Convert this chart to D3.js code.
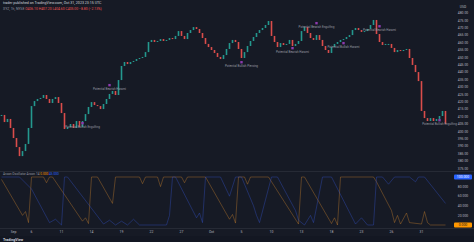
<!DOCTYPE html>
<html>
<head>
<meta charset="utf-8">
<script src="https://cdn.jsdelivr.net/npm/d3@7"></script>
<style>
  html, body { margin: 0; padding: 0; background: #161a25; overflow: hidden; }
  svg text { font-family: Roboto, "Noto Sans", sans-serif; }
</style>
</head>
<body>
<div id="chart"></div>
<script>
// Taille de la fenêtre
const width = 474;
const height = 242;

// Clôtures (une bougie par valeur)
const closes = [
  411.1, 406.3, 408.4, 402.3, 395.5, 389.4, 383.3, 386.7, 391.5, 402.3,
  417.1, 420.5, 421.9, 422.6, 424.6, 421.9, 419.2, 421.9, 423.2, 419.2,
  412.4, 401.6, 402.9, 405.0, 402.3, 407.0, 402.9, 407.0, 411.7, 416.5,
  419.8, 417.8, 417.1, 415.1, 418.5, 421.9, 425.3, 427.3, 424.6, 434.7,
  444.2, 446.9, 445.5, 446.9, 447.6, 448.9, 449.6, 450.3, 453.6, 460.4,
  461.8, 460.4, 461.1, 462.4, 461.1, 461.8, 463.1, 462.4, 464.5, 467.8,
  464.5, 462.4, 466.5, 468.5, 470.5, 469.2, 466.5, 463.1, 459.1, 457.0,
  455.0, 453.0, 450.3, 448.9, 451.6, 455.7, 459.7, 461.8, 460.4, 455.7,
  449.6, 453.6, 457.7, 461.1, 463.8, 466.5, 468.5, 469.9, 471.9, 474.6,
  464.5, 460.4, 457.0, 459.7, 458.4, 459.1, 461.8, 457.7, 459.1, 461.1,
  467.8, 470.5, 466.5, 463.1, 461.8, 465.1, 461.8, 457.7, 455.0, 453.0,
  457.0, 459.1, 460.4, 461.8, 462.4, 463.8, 465.1, 468.5, 469.9, 468.5,
  467.2, 467.8, 469.2, 471.9, 475.3, 465.8, 460.4, 458.4, 459.1, 459.1,
  456.4, 453.6, 455.0, 454.3, 455.0, 455.7, 449.6, 444.9, 440.1, 434.0,
  413.8, 409.0, 407.0, 409.0, 407.0, 408.4, 410.4, 413.8, 405.0
];

// Graduations de l'axe des prix
const priceTicks = [480, 475, 470, 465, 460, 455, 450, 445, 440, 435, 430,
  425, 420, 415, 410, 405, 400, 395, 390, 385, 380, 375];

// Axe du temps
const timeTickIdx = [4, 10, 20, 30, 40, 50, 60, 70, 80, 90, 100, 110, 120, 130, 140];
const timeTickLabels = ["Sep", "6", "11", "14", "19", "22", "27", "Oct",
  "5", "10", "13", "18", "23", "26", "31"];

// Aroon (sommets des lignes : [bougie, valeur])
const aroonUp = [
  [0, 95], [7, 20], [8, 28], [9, 5], [10, 100], [14, 100], [15, 88], [16, 100],
  [17, 100], [27, 8], [28, 15], [29, 3], [30, 100], [32, 100], [37, 45], [38, 100],
  [46, 100], [47, 86], [48, 100], [52, 100], [53, 80], [54, 100], [60, 100], [61, 88],
  [62, 100], [68, 100], [76, 12], [77, 22], [78, 4], [79, 100], [81, 100], [82, 85],
  [83, 100], [89, 100], [99, 2], [100, 100], [101, 100], [110, 3], [111, 15], [112, 0],
  [113, 100], [124, 100], [125, 90], [130, 30], [131, 5], [132, 20], [133, 2], [135, 25],
  [136, 5], [140, 2], [141, 28], [142, 5], [143, 0], [148, 0]
];
const aroonDown = [
  [0, 100], [6, 100], [10, 75], [16, 5], [18, 12], [20, 0], [21, 100], [22, 100],
  [34, 2], [36, 10], [38, 0], [40, 8], [42, 0], [44, 12], [46, 0], [55, 0],
  [56, 20], [57, 100], [58, 100], [65, 15], [66, 25], [67, 5], [68, 100], [73, 100],
  [76, 60], [78, 100], [80, 100], [84, 40], [85, 20], [86, 5], [90, 100], [92, 100],
  [98, 30], [99, 10], [101, 0], [103, 20], [104, 5], [107, 100], [110, 100], [118, 2],
  [120, 15], [122, 0], [124, 0], [125, 100], [127, 100], [129, 85], [131, 100], [136, 100],
  [138, 90], [139, 100], [141, 100], [148, 45]
];
const oscTicks = [80, 60, 40, 20];

// Annotations de motifs : [bougie, prix, texte]
const patterns = [
  [36, 428.0, "Potential Bearish Harami"],
  [27, 402.3, "Potential Bullish Engulfing"],
  [80, 443.5, "Potential Bullish Piercing"],
  [97, 453.0, "Potential Bearish Harami"],
  [105, 469.9, "Potential Bearish Engulfing"],
  [114, 456.4, "Potential Bullish Harami"],
  [126, 467.8, "Potential Bearish Harami"],
  [146, 404.3, "Potential Bullish Engulfing"]
];

const plotRight = 450;
const up = "#26a69a", down = "#ef5350";

const x = d3.scaleLinear().domain([0, 1]).range([1.5, 4.5]);
const y = d3.scaleLinear().domain([488.8, 373.9]).range([0, 170]);
const yOsc = d3.scaleLinear().domain([0, 100]).range([225, 177]);

const svg = d3.select("#chart").append("svg")
  .attr("width", width).attr("height", height);

svg.append("rect").attr("width", width).attr("height", height).attr("fill", "#161a25");

// Séparateurs des panneaux
svg.append("line").attr("x1", 0).attr("x2", width).attr("y1", 171.5).attr("y2", 171.5)
  .attr("stroke", "#262a35");
svg.append("line").attr("x1", 0).attr("x2", width).attr("y1", 228.5).attr("y2", 228.5)
  .attr("stroke", "#262a35");
svg.append("rect").attr("x", 0).attr("y", 236).attr("width", width).attr("height", 6)
  .attr("fill", "#131722");

// Bougies
const candles = closes.map((c, i) => ({ i, open: i ? closes[i - 1] : c, close: c }));
svg.append("g").selectAll("rect")
  .data(candles)
  .enter()
  .append("rect")
  .attr("x", d => x(d.i) - 0.8)
  .attr("width", 1.6)
  .attr("y", d => y(Math.max(d.open, d.close)))
  .attr("height", d => Math.max(1, Math.abs(y(d.open) - y(d.close))))
  .attr("fill", d => d.close >= d.open ? up : down)
  .attr("fill-opacity", 0.9);

// Annotations
const ann = svg.append("g");
patterns.forEach(p => {
  ann.append("text")
    .attr("x", x(p[0])).attr("y", y(p[1]))
    .attr("text-anchor", "middle")
    .attr("font-size", 3)
    .attr("fill", "#9598a1")
    .text(p[2]);
  ann.append("rect")
    .attr("x", x(p[0]) - 1.2).attr("y", y(p[1]) - 6)
    .attr("width", 2.4).attr("height", 2.4)
    .attr("fill", "#8e3bb0");
});

// Axe des prix
const yAxis = svg.append("g").attr("transform", `translate(${plotRight},0)`);
yAxis.selectAll("text")
  .data(priceTicks)
  .enter()
  .append("text")
  .attr("x", 13).attr("y", d => y(d) + 1.2)
  .attr("text-anchor", "middle")
  .attr("font-size", 3.4)
  .attr("fill", "#b2b5be")
  .text(d => d.toFixed(2));
yAxis.append("text").attr("x", 13).attr("y", 8).attr("text-anchor", "middle")
  .attr("font-size", 3.4).attr("fill", "#b2b5be").text("USD");

// Oscillateur Aroon
const line = d3.line().x(d => x(d[0])).y(d => yOsc(d[1]));
svg.append("path").datum(aroonUp).attr("d", line)
  .attr("fill", "none").attr("stroke", "#d98a2e").attr("stroke-opacity", 0.6).attr("stroke-width", 0.6);
svg.append("path").datum(aroonDown).attr("d", line)
  .attr("fill", "none").attr("stroke", "#3556d8").attr("stroke-opacity", 0.6).attr("stroke-width", 0.6);

yAxis.selectAll(".osc")
  .data(oscTicks)
  .enter()
  .append("text")
  .attr("x", 13).attr("y", d => yOsc(d) + 1.2)
  .attr("text-anchor", "middle")
  .attr("font-size", 3.4)
  .attr("fill", "#b2b5be")
  .text(d => d.toFixed(3));

// Étiquettes de dernière valeur
const lastDown = aroonDown[aroonDown.length - 1][1];
const lastUp = aroonUp[aroonUp.length - 1][1];
yAxis.append("rect").attr("x", 4).attr("y", 174.5).attr("width", 18).attr("height", 5)
  .attr("rx", 1).attr("fill", "#2962ff");
yAxis.append("text").attr("x", 13).attr("y", 178.3).attr("text-anchor", "middle")
  .attr("font-size", 3.4).attr("fill", "#fff").text("100.000");
yAxis.append("rect").attr("x", 4).attr("y", yOsc(lastUp) - 2.5).attr("width", 18).attr("height", 5)
  .attr("rx", 1).attr("fill", "#ff9800");
yAxis.append("text").attr("x", 13).attr("y", yOsc(lastUp) + 1.3).attr("text-anchor", "middle")
  .attr("font-size", 3.4).attr("fill", "#131722").text(lastUp.toFixed(3));

// Axe du temps
svg.append("g").selectAll("text")
  .data(timeTickIdx)
  .enter()
  .append("text")
  .attr("x", d => x(d)).attr("y", 232.5)
  .attr("text-anchor", "middle")
  .attr("font-size", 3.4)
  .attr("fill", "#b2b5be")
  .text((d, k) => timeTickLabels[k]);

// En-têtes
svg.append("text").attr("x", 3).attr("y", 4).attr("font-size", 3.6).attr("fill", "#d1d4dc")
  .text("trader published on TradingView.com, Oct 31, 2023 23:15 UTC");
const h2 = svg.append("text").attr("x", 3).attr("y", 9.5).attr("font-size", 3.4).attr("fill", "#9598a1");
h2.append("tspan").text("XYZ, 1h, NYSE  ");
h2.append("tspan").attr("fill", down).text("O406.10 H407.20 L404.60 C405.00 −8.80 (−2.13%)");

const leg = svg.append("text").attr("x", 3).attr("y", 174.5).attr("font-size", 3.2).attr("fill", "#9598a1");
leg.append("tspan").text("Aroon Oscillator Aroon  14  ");
leg.append("tspan").attr("fill", "#ff9800").text(lastUp.toFixed(3) + " ");
leg.append("tspan").attr("fill", "#2962ff").text(lastDown.toFixed(3));

svg.append("text").attr("x", 3).attr("y", 240.5).attr("font-size", 3.6).attr("font-weight", "bold")
  .attr("fill", "#d1d4dc").text("TradingView");
</script>
</body>
</html>
